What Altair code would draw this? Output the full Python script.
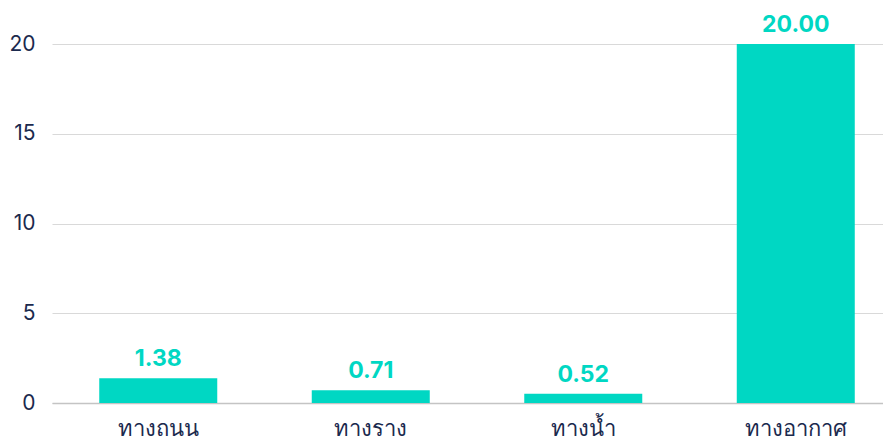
import altair as alt
import pandas as pd

categories = ["ทางถนน", "ทางราง", "ทางน้ำ", "ทางอากาศ"]
values = [1.38, 0.71, 0.52, 20.00]
y_ticks = [0, 5, 10, 15, 20]

df = pd.DataFrame({"mode": categories, "value": values})

FONT = "Inter"
BAR = "#00D7C3"
TXT = "#1B2A4E"

x = alt.X(
    "mode:N",
    sort=categories,
    title=None,
    scale=alt.Scale(paddingInner=0.4447, paddingOuter=0.1776, align=0.626),
    axis=alt.Axis(
        labelAngle=0, labelFont=FONT, labelFontSize=22, labelColor=TXT,
        labelPadding=15, ticks=False, domain=True, domainColor="#C4C4C4",
        domainWidth=1.5, grid=False,
    ),
)
y = alt.Y(
    "value:Q",
    title=None,
    scale=alt.Scale(domain=[0, 20], nice=False),
    axis=alt.Axis(
        values=y_ticks, labelFont=FONT, labelFontSize=21, labelColor=TXT,
        labelPadding=17, ticks=False, domain=False, grid=True,
        gridColor="#D9D9D9", gridWidth=1,
    ),
)

bars = alt.Chart(df).mark_bar(color=BAR).encode(x=x, y=y)
labels = alt.Chart(df).mark_text(
    font=FONT, fontSize=23, fontWeight="bold", color=BAR,
    baseline="alphabetic", dy=-12,
).encode(x=x, y=y, text=alt.Text("value:Q", format=".2f"))

chart = (
    (bars + labels)
    .properties(
        width=831, height=359,
        autosize=alt.AutoSizeParams(type="none"),
        padding={"left": 44, "top": 36, "right": 0, "bottom": 40},
        background="white",
    )
    .configure_view(stroke=None)
)

chart.save("out.html", embed_options={"renderer": "svg", "actions": False})
